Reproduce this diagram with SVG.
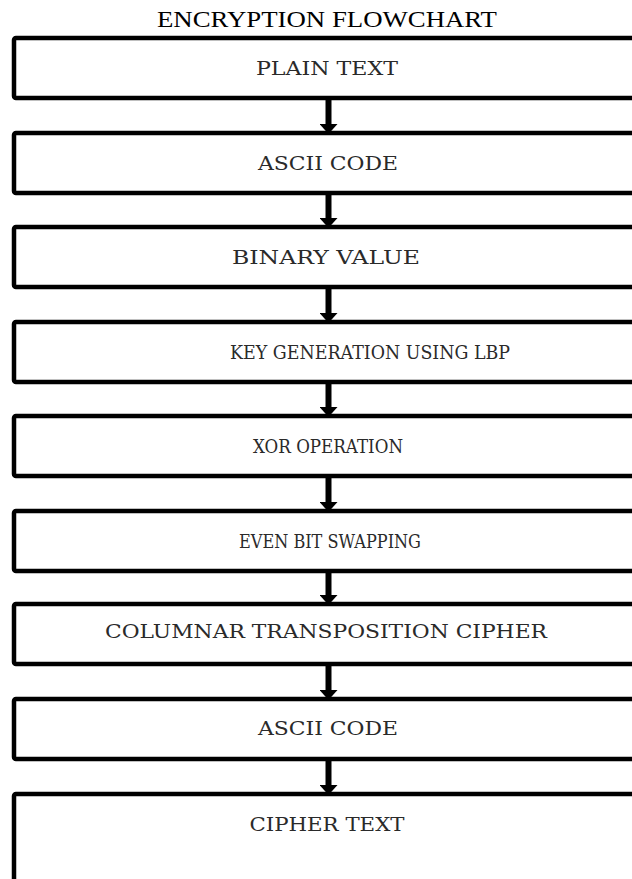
<svg xmlns="http://www.w3.org/2000/svg" width="632" height="879" viewBox="0 0 632 879">
<style>
.box{fill:#fff;stroke:#000;stroke-width:4.5}
.lbl{font-family:"DejaVu Serif","Liberation Serif",serif;font-size:18px;fill:#2a2a2a;text-anchor:middle}
.title{font-family:"Liberation Serif","Times New Roman",serif;font-size:23px;fill:#000;text-anchor:middle}
.conn{stroke:#000;stroke-width:6;fill:none}
</style>
<defs>
<marker id="ah" markerUnits="userSpaceOnUse" viewBox="0 0 10 18" refX="0" refY="9" markerWidth="10" markerHeight="18" orient="auto">
<path d="M0,0 L10,9 L0,18 Z" fill="#000"/>
</marker>
</defs>
<rect width="632" height="879" fill="#fff"/>
<text class="title" x="327" y="27" textLength="340" lengthAdjust="spacingAndGlyphs">ENCRYPTION FLOWCHART</text>
<g id="connectors">
<path class="conn" d="M328.5,98 V124" marker-end="url(#ah)"/>
<path class="conn" d="M328.5,193 V218" marker-end="url(#ah)"/>
<path class="conn" d="M328.5,287 V313" marker-end="url(#ah)"/>
<path class="conn" d="M328.5,382 V407" marker-end="url(#ah)"/>
<path class="conn" d="M328.5,476 V502" marker-end="url(#ah)"/>
<path class="conn" d="M328.5,571 V595" marker-end="url(#ah)"/>
<path class="conn" d="M328.5,664 V690" marker-end="url(#ah)"/>
<path class="conn" d="M328.5,759 V785" marker-end="url(#ah)"/>
</g>
<g id="n1"><rect class="box" x="14" y="38" width="640" height="60" rx="2"/><text class="lbl" x="327" y="75" textLength="142" lengthAdjust="spacingAndGlyphs">PLAIN TEXT</text></g>
<g id="n2"><rect class="box" x="14" y="133" width="640" height="60" rx="2"/><text class="lbl" x="328" y="170" textLength="140" lengthAdjust="spacingAndGlyphs">ASCII CODE</text></g>
<g id="n3"><rect class="box" x="14" y="227" width="640" height="60" rx="2"/><text class="lbl" x="326" y="264" textLength="188" lengthAdjust="spacingAndGlyphs">BINARY VALUE</text></g>
<g id="n4"><rect class="box" x="14" y="322" width="640" height="60" rx="2"/><text class="lbl" x="370" y="359" textLength="280" lengthAdjust="spacingAndGlyphs">KEY GENERATION USING LBP</text></g>
<g id="n5"><rect class="box" x="14" y="416" width="640" height="60" rx="2"/><text class="lbl" x="328" y="453" textLength="150" lengthAdjust="spacingAndGlyphs">XOR OPERATION</text></g>
<g id="n6"><rect class="box" x="14" y="511" width="640" height="60" rx="2"/><text class="lbl" x="330" y="548" textLength="182" lengthAdjust="spacingAndGlyphs">EVEN BIT SWAPPING</text></g>
<g id="n7"><rect class="box" x="14" y="604" width="640" height="60" rx="2"/><text class="lbl" x="326" y="638" textLength="442" lengthAdjust="spacingAndGlyphs">COLUMNAR TRANSPOSITION CIPHER</text></g>
<g id="n8"><rect class="box" x="14" y="699" width="640" height="60" rx="2"/><text class="lbl" x="328" y="735" textLength="140" lengthAdjust="spacingAndGlyphs">ASCII CODE</text></g>
<g id="n9"><rect class="box" x="14" y="794" width="640" height="120" rx="2"/><text class="lbl" x="327" y="831" textLength="155" lengthAdjust="spacingAndGlyphs">CIPHER TEXT</text></g>
</svg>
